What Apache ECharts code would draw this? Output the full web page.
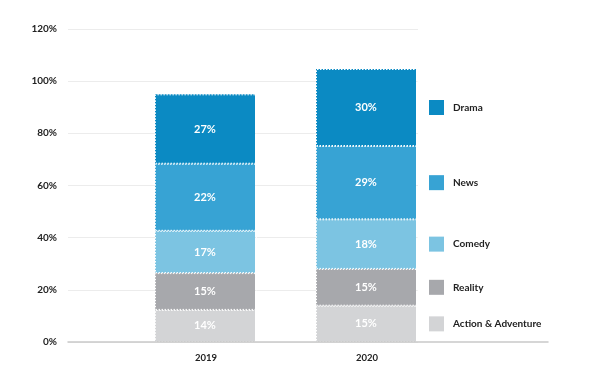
<!DOCTYPE html>
<html>
<head>
<meta charset="utf-8">
<script src="https://cdn.jsdelivr.net/npm/echarts@6/dist/echarts.min.js"></script>
<style>html,body{margin:0;padding:0;background:#fff}#c{width:590px;height:384px}</style>
</head>
<body>
<div id="c"></div>
<script>
// Categories (x axis)
const categories = ['2019', '2020'];
// Series names, bottom to top of the stack
const seriesNames = ['Action & Adventure', 'Reality', 'Comedy', 'News', 'Drama'];
// Segment heights as drawn (percent of axis)
const actionValues = [12.3, 13.9];
const realityValues = [14.1, 14.1];
const comedyValues = [16.2, 19.0];
const newsValues = [25.7, 28.1];
const dramaValues = [26.6, 29.5];
// Labels printed on the segments
const actionLabels = ['14%', '15%'];
const realityLabels = ['15%', '15%'];
const comedyLabels = ['17%', '18%'];
const newsLabels = ['22%', '29%'];
const dramaLabels = ['27%', '30%'];
// Y tick settings
const yMin = 0, yMax = 120, yStep = 20;

const values = [actionValues, realityValues, comedyValues, newsValues, dramaValues];
const labels = [actionLabels, realityLabels, comedyLabels, newsLabels, dramaLabels];
const colors = ['#d3d4d6', '#a7a8ac', '#7cc4e2', '#37a3d4', '#0b8ac3'];
const FONT = 'Lato';

const series = [];
values.forEach((v, i) => {
  series.push({
    type: 'bar', name: seriesNames[i], stack: 'a', xAxisIndex: 0, yAxisIndex: 0,
    data: v, barWidth: 100, barGap: '-100%',
    itemStyle: { color: colors[i] },
    label: {
      show: true, position: 'inside', color: '#ffffff', fontFamily: FONT,
      fontWeight: 'bold', fontSize: 11,
      formatter: p => labels[i][p.dataIndex]
    },
    emphasis: { disabled: true }, silent: true, z: 2
  });
});
// Separator + legend overlay: slightly wider so the dotted sides fall on white
values.forEach((v, i) => {
  series.push({
    type: 'bar', name: seriesNames[i] + '_legend', stack: 'b', xAxisIndex: 0, yAxisIndex: 0,
    data: v, barWidth: 102, barGap: '-100%',
    itemStyle: { color: 'rgba(0,0,0,0)', borderColor: '#ffffff', borderType: [1.5, 1.5], borderWidth: 1 },
    label: {
      show: true, position: 'right', distance: 11,
      formatter: p => p.dataIndex === categories.length - 1 ? '{sq|}{t|' + seriesNames[i] + '}' : '',
      rich: {
        sq: { width: 15, height: 15, backgroundColor: colors[i] },
        t: { fontFamily: FONT, fontWeight: 'bold', fontSize: 10, color: '#222222', padding: [0, 0, 0, 9] }
      }
    },
    emphasis: { disabled: true }, silent: true, z: 3
  });
});

const chart = echarts.init(document.getElementById('c'), null, { renderer: 'canvas' });
chart.setOption({
  animation: false,
  backgroundColor: '#ffffff',
  grid: [
    { left: 125.5, right: 142.5, top: 28.8, bottom: 42 },
    { left: 68, right: 172, top: 28.8, bottom: 42 },
    { left: 68, right: 42, top: 28.8, bottom: 42 }
  ],
  xAxis: [
    { gridIndex: 0, type: 'category', data: categories,
      axisLine: { show: false }, axisTick: { show: false },
      axisLabel: { margin: 11, fontFamily: FONT, fontWeight: 'bold', fontSize: 9.5, color: '#222222' } },
    { gridIndex: 1, type: 'value', min: 0, max: 1, show: false },
    { gridIndex: 2, type: 'value', min: 0, max: 1, z: 5,
      axisLine: { show: true, lineStyle: { color: '#c9c9c9', width: 1.5 } },
      axisTick: { show: false }, axisLabel: { show: false }, splitLine: { show: false } }
  ],
  yAxis: [
    { gridIndex: 0, type: 'value', min: yMin, max: yMax, interval: yStep, show: false },
    { gridIndex: 1, type: 'value', min: yMin, max: yMax, interval: yStep,
      axisLine: { show: false }, axisTick: { show: false },
      axisLabel: { margin: 11, formatter: '{value}%', fontFamily: FONT, fontWeight: 'bold', fontSize: 10, color: '#222222' },
      splitLine: { show: true, lineStyle: { color: '#ececec', width: 1 } } },
    { gridIndex: 2, type: 'value', min: yMin, max: yMax, interval: yStep, show: false }
  ],
  series: series
});
</script>
</body>
</html>
